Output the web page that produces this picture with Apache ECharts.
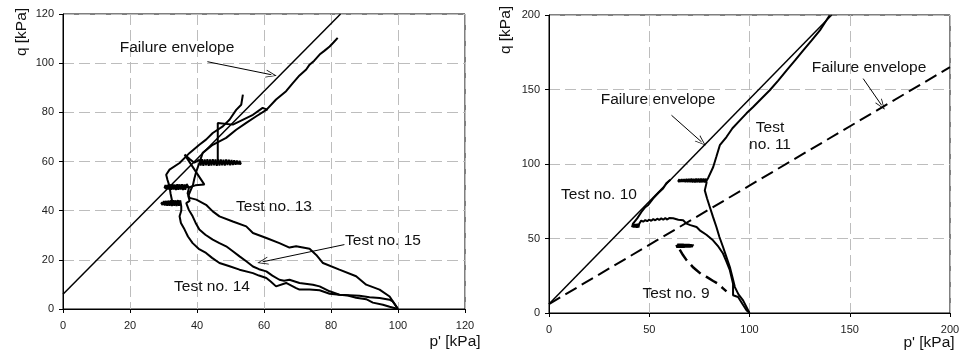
<!DOCTYPE html>
<html>
<head>
<meta charset="utf-8">
<script src="https://cdn.jsdelivr.net/npm/echarts@6/dist/echarts.min.js"></script>
<style>
  html, body { margin: 0; padding: 0; background: #fff; }
  #chart { width: 966px; height: 362px; }
</style>
</head>
<body>
<div id="chart"></div>
<script>
// ---- Axis ticks ----
const leftTicks = { min: 0, max: 120, step: 20 };
const rightTicks = { min: 0, max: 200, step: 50 };

// ---- Left panel: stress paths, tests 13-15 (p', q in kPa) ----
const envelopeLeft = [[0, 6], [82.85, 120]];

const test13 = [
  [100, 0], [97.5, 5.1], [94.5, 7.9], [90.5, 9.9], [87.5, 13.3], [82.5, 16], [77.6, 18.7],
  [75.6, 22], [73.6, 24.5], [69.6, 25.5], [67.6, 25], [64.6, 26.8], [60.7, 28.9],
  [56.7, 30.9], [54.7, 33.6], [50.7, 35.6], [46.7, 37.7], [44.7, 39.7], [42.7, 42.4],
  [39.8, 44.5], [37.8, 45.2], [37.2, 47], [37.6, 49.3],
  [37.2, 48.6], [36.9, 50.8], [36.5, 48.5], [36.2, 50.7], [35.8, 48.4], [35.5, 50.8],
  [35.1, 48.6], [34.8, 50.7], [34.4, 48.5], [34.1, 50.8], [33.7, 48.4], [33.4, 50.6],
  [33, 48.6], [32.7, 50.8], [32.3, 48.5], [32, 50.7], [31.6, 48.6], [31.3, 50.5],
  [30.9, 48.7], [30.6, 50.4], [30.3, 49.2],
  [31.5, 49.9], [33, 49.1], [35, 50.1], [37.5, 49.4], [39.5, 50.3], [42.2, 50.6],
  [36.3, 62.8], [37.8, 61], [39.2, 59.5],
  [40.7, 60.7], [41.1, 58.4], [41.5, 60.9], [41.9, 58.3], [42.3, 60.8], [42.7, 58.5],
  [43.1, 60.9], [43.5, 58.3], [43.9, 60.8], [44.3, 58.4], [44.7, 60.9], [45.1, 58.5],
  [45.5, 60.8], [45.9, 58.3], [46.3, 60.9], [46.7, 58.4], [47.1, 60.8], [47.5, 58.5],
  [47.9, 60.7], [48.3, 58.4], [48.7, 60.8], [49.1, 58.6], [49.5, 60.7], [49.9, 58.5],
  [50.3, 60.6], [50.7, 58.6], [51.1, 60.5], [51.5, 58.7], [51.9, 60.4], [52.3, 58.8],
  [52.7, 60.3], [53.1, 59], [53.4, 59.6],
  [50, 59.6], [46.2, 60], [46.2, 68], [46.2, 75.7], [50.7, 75], [52.7, 76.3], [56.7, 79],
  [59.6, 81.8], [61.1, 81]
];

const test14 = [
  [100, 0], [97.5, 0.9], [95.5, 1.7], [92.5, 2.6], [90.5, 4], [87.5, 4.6], [85, 5.5],
  [82.5, 5.8], [79.6, 6.2], [76.6, 7.6], [73.6, 7.9], [70.6, 7.9], [69.6, 8.5],
  [66.6, 10.6], [63.6, 9.2], [62, 11.2], [60.7, 12.6], [58.5, 13.6], [56.7, 14.6],
  [52.7, 16], [49.5, 17.5], [46.7, 18.7], [44.5, 20.8], [42.7, 22.8], [40.5, 24.5],
  [38.7, 26.8], [37.3, 29.5], [36.3, 32.3], [35.2, 35], [34.8, 37.7], [35.3, 40],
  [35.3, 41.7],
  [35, 44.2], [34.6, 42], [34.3, 44.3], [33.9, 41.9], [33.6, 44.2], [33.2, 42],
  [32.9, 44.3], [32.5, 41.9], [32.2, 44.2], [31.8, 42], [31.5, 44.1], [31.1, 42],
  [30.8, 44], [30.4, 42.1], [30.1, 43.9], [29.7, 42.3], [29.3, 43.2],
  [31.2, 42.5], [32.6, 43.7], [32.3, 44.5], [32.1, 47],
  [31.8, 49.9], [31.2, 52.5], [30.8, 54.6], [31.8, 56.7], [34.8, 59.4], [37.8, 63.5],
  [40.7, 66.8], [42.7, 68.9], [44.7, 71.6], [47.7, 74.3], [49.7, 77], [51.7, 81],
  [53.2, 83.1], [53.7, 87.2]
];

const test15 = [
  [100, 0], [99, 2], [98.4, 3.1], [97.5, 3.8], [94.5, 4.5], [91.5, 4.8], [88.5, 5.4],
  [85.5, 5.6], [82.5, 5.8], [79.6, 7.2], [76.6, 9.2], [74.6, 9.9], [70.6, 10.6],
  [67.6, 11.9], [66, 11.5], [64.6, 11.9], [62.5, 13.6], [60.7, 15.3], [58.5, 16.2],
  [56.7, 17.3], [54.7, 19.4], [52.7, 21.4], [50.7, 23.5], [48.7, 25.5], [46.7, 26.8],
  [44.7, 28.2], [42.5, 30.2], [40.7, 32.3], [39.6, 35], [38.7, 37.7], [37.5, 40.5],
  [36.8, 43.1], [37.8, 44], [37.4, 46], [38, 48], [38.8, 50.5], [39.2, 53], [39.8, 56],
  [40.7, 59.4], [41.7, 63.5], [44.7, 66.8], [48.7, 69.6], [51.7, 72.9], [54.7, 75.7],
  [57.7, 78.4], [60.7, 81], [63.6, 85.2], [66.6, 88.6], [68.6, 91.9], [70.6, 95],
  [72.6, 97.4], [73.6, 99.4], [75, 101], [76.6, 103.5], [78, 105], [79.6, 106.8],
  [80.8, 108.5], [82, 110.3]
];

// ---- Right panel: stress paths, tests 9-11 ----
const envelopeRight = [[0, 6], [141, 200]];
const envelopeRightDashed = [[0, 6], [200, 165]];

const test11 = [
  [100, 0], [99.3, 0.7], [96.8, 8.5], [94.5, 12.5], [92.7, 17.4], [91.5, 24], [90.2, 30.9],
  [88.5, 37.5], [86.8, 44.3], [85, 51], [83.5, 57.7], [81.8, 64.5], [80.2, 71.1],
  [78.8, 77], [77.7, 82.3], [78.6, 87.5],
  [78.2, 90.2], [77.6, 87.6], [77, 90.3], [76.4, 87.7], [75.8, 90.2], [75.2, 87.6],
  [74.6, 90.3], [74, 87.7], [73.4, 90.2], [72.8, 87.6], [72.2, 90.1], [71.6, 87.7],
  [71, 90.2], [70.4, 87.8], [69.8, 90], [69.2, 87.8], [68.6, 90], [68, 87.9],
  [67.4, 89.9], [66.8, 88], [66.2, 89.8], [65.6, 88.1], [65, 89.7], [64.4, 88.2],
  [63.8, 89.4], [63.6, 88.8],
  [66, 88.5], [70, 89.1], [74, 88.5], [78.5, 88.5], [79.5, 91], [81.9, 98], [83.5, 105],
  [85.2, 112.6], [88.5, 118.1], [91.5, 124], [95.2, 129.3], [98.5, 134], [101.8, 138.3],
  [106, 144], [110.1, 149.5], [114.3, 156], [118.5, 162.9], [122.7, 169.5],
  [126.8, 176.3], [131, 183], [135.1, 189.7], [140, 199.8]
];

const test10 = [
  [100, 0], [98.5, 1.8], [96.5, 6], [94.3, 10.7], [91.8, 11.9], [91.8, 19.7], [90.2, 28.7],
  [88.5, 34.5], [86.8, 39.9], [84.5, 44.5], [81.8, 48.8], [78.5, 52.5], [75.2, 55.5],
  [73.6, 57.7], [70.5, 59], [68.6, 60], [66.9, 62.2], [64.5, 62.6],
  [61.9, 63.6], [61, 62.6], [60, 63.8], [59, 62.7], [58, 63.7], [57, 62.6], [56, 63.5],
  [55, 62.4], [54, 63.3], [53, 62.2], [52, 63], [51, 61.9], [50, 62.7], [49, 61.6],
  [48, 62.4], [47, 61.3], [46, 62], [45.3, 61.1],
  [45, 59.9], [44.6, 57.3], [44.2, 59.9], [43.8, 57.2], [43.4, 59.8], [43, 57.3],
  [42.6, 59.8], [42.2, 57.4], [41.8, 59.6], [41.4, 57.5], [41.1, 58.8],
  [41.9, 60], [44, 63.5], [46.1, 67.8], [48, 71], [49.5, 72.5], [51.9, 76.8],
  [54.5, 80.5], [56.9, 83.5], [58.5, 87], [59.4, 87.8], [60.5, 89.4]
];

const test9Plateau = [
  [63.6, 45.8], [64.1, 43.9], [64.6, 46.4], [65.1, 43.8], [65.6, 46.5], [66.1, 43.9],
  [66.6, 46.4], [67.1, 43.8], [67.6, 46.3], [68.1, 44], [68.6, 46.3], [69.1, 44],
  [69.6, 46.2], [70.1, 44.1], [70.6, 46], [71.1, 44.3], [71.6, 45.7], [71.9, 45]
];
const test9 = [
  [65.2, 42.5], [66.9, 38.7], [68.6, 35.5], [70.2, 33.2], [72, 30.5], [73.6, 28.7],
  [76, 26], [78.6, 24.2], [81.9, 21.5], [84.5, 19.5], [86.8, 16.5], [88.5, 14.5]
];

// ---- Annotation arrows (data coordinates) ----
const arrowLeftEnvelope = [[43.1, 100.6], [62.2, 95.3]];
const arrowLeftTest15 = [[84, 26.2], [59.6, 19.2]];
const arrowRightEnvelope = [[61.1, 132.7], [76.1, 114.8]];
const arrowRightDashed = [[156.7, 157.3], [165.9, 139.4]];

const FONT = '"Liberation Sans", Arial, Helvetica, sans-serif';
const INK = '#111';
// open "V" arrow head, tip pointing along the line
const ARROW_HEAD = 'path://M5,0L10,12L9,12L5,2.2L1,12L0,12Z';

function axis(t, gridIndex, isX) {
  return {
    type: 'value', gridIndex, min: t.min, max: t.max, interval: t.step,
    axisLine: { show: true, onZero: false, lineStyle: { color: '#000', width: 1 } },
    axisTick: { show: true, length: 4, inside: false, lineStyle: { color: '#000' } },
    axisLabel: { color: '#222', fontFamily: FONT, fontSize: 11, margin: isX ? 11 : 9 },
    splitLine: { show: true, lineStyle: { color: '#bdbdbd', type: [11, 5], width: 1 } }
  };
}

function path(data, idx, width, dashed) {
  return {
    type: 'line', data, xAxisIndex: idx, yAxisIndex: idx,
    showSymbol: false, symbol: 'none', silent: true, animation: false,
    lineStyle: { color: '#000', width, type: dashed ? [13, 6] : 'solid' },
    z: 3
  };
}

function arrow(seg) {
  return [{ coord: seg[0] }, { coord: seg[1] }];
}

const leftEnvSeries = path(envelopeLeft, 0, 1.5);
leftEnvSeries.markLine = {
  silent: true, animation: false,
  symbol: ['none', ARROW_HEAD], symbolSize: [8, 11],
  label: { show: false },
  lineStyle: { color: '#000', width: 1, type: 'solid' },
  data: [arrow(arrowLeftEnvelope), arrow(arrowLeftTest15)]
};

const rightEnvSeries = path(envelopeRight, 1, 1.5);
rightEnvSeries.markLine = {
  silent: true, animation: false,
  symbol: ['none', ARROW_HEAD], symbolSize: [8, 11],
  label: { show: false },
  lineStyle: { color: '#000', width: 1, type: 'solid' },
  data: [arrow(arrowRightEnvelope), arrow(arrowRightDashed)]
};

function note(text, x, y, extra) {
  return Object.assign({
    type: 'text', x, y, z: 10, silent: true,
    style: {
      text, fill: INK, font: '15.5px ' + FONT,
      align: 'center', verticalAlign: 'middle', lineHeight: 17
    }
  }, extra || {});
}

const option = {
  animation: false,
  backgroundColor: '#fff',
  grid: [
    { left: 63, top: 14, width: 402, height: 295, show: true, borderColor: '#000', borderWidth: 1, backgroundColor: 'transparent' },
    { left: 549, top: 15, width: 401, height: 298, show: true, borderColor: '#000', borderWidth: 1, backgroundColor: 'transparent' }
  ],
  xAxis: [axis(leftTicks, 0, true), axis(rightTicks, 1, true)],
  yAxis: [axis(leftTicks, 0, false), axis(rightTicks, 1, false)],
  series: [
    leftEnvSeries,
    path(test13, 0, 2),
    path(test14, 0, 2),
    path(test15, 0, 2),
    rightEnvSeries,
    path(envelopeRightDashed, 1, 2, true),
    path(test11, 1, 2),
    path(test10, 1, 2),
    path(test9Plateau, 1, 2.5),
    path(test9, 1, 2.5, true)
  ],
  graphic: [
    note('q [kPa]', 22, 32, { rotation: Math.PI / 2 }),
    note('p\' [kPa]', 455, 342),
    note('Failure envelope', 177, 48),
    note('Test no. 13', 274, 207),
    note('Test no. 15', 383, 241),
    note('Test no. 14', 212, 287),
    note('q [kPa]', 506, 30, { rotation: Math.PI / 2 }),
    note('p\' [kPa]', 929, 343),
    note('Failure envelope', 658, 100),
    note('Failure envelope', 869, 68),
    note('Test no. 10', 599, 195),
    note('Test\nno. 11', 770, 136),
    note('Test no. 9', 676, 294)
  ]
};

const chart = echarts.init(document.getElementById('chart'), null, { renderer: 'canvas' });
chart.setOption(option);
</script>
</body>
</html>
